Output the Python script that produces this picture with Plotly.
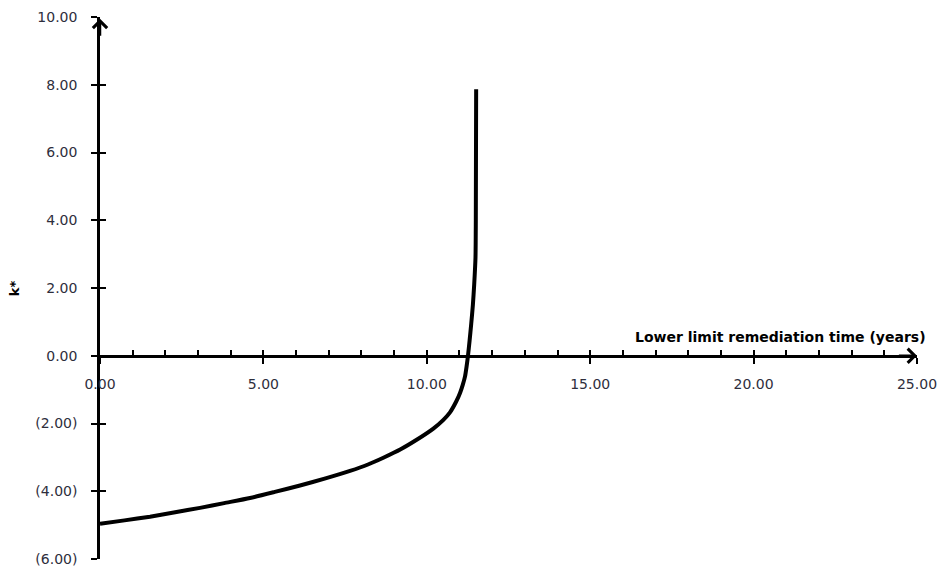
import plotly.graph_objects as go

# Lower limit remediation time (years) and the corresponding k* values
remediation_years = [0.0, 0.75, 1.53, 2.3, 3.06, 3.8, 4.59, 5.35, 6.12, 6.9, 7.65, 8.2,
                     8.67, 9.2, 9.69, 10.2, 10.5, 10.71, 10.9, 11.02, 11.1, 11.17,
                     11.22, 11.26, 11.31, 11.36, 11.41, 11.45, 11.49, 11.5, 11.51]
k_star = [-4.96, -4.86, -4.75, -4.62, -4.49, -4.35, -4.20, -4.02, -3.83, -3.62, -3.40,
          -3.21, -3.01, -2.76, -2.48, -2.15, -1.90, -1.67, -1.35, -1.09, -0.86, -0.61,
          -0.30, 0.0, 0.45, 0.95, 1.50, 2.10, 2.90, 4.00, 7.87]

x_tick_vals = [0, 5, 10, 15, 20, 25]
x_tick_text = ["0.00", "5.00", "10.00", "15.00", "20.00", "25.00"]
y_tick_vals = [-6, -4, -2, 0, 2, 4, 6, 8, 10]
y_tick_text = ["(6.00)", "(4.00)", "(2.00)", "0.00", "2.00", "4.00", "6.00", "8.00", "10.00"]

X_RANGE = [0, 25]
Y_RANGE = [-6, 10]
# the horizontal axis sits on k* = 0
zero_pos = (0 - Y_RANGE[0]) / (Y_RANGE[1] - Y_RANGE[0])

FONT = "DejaVu Sans"
LABEL_COLOR = "#2e2e3c"

fig = go.Figure()

fig.add_trace(go.Scatter(
    x=remediation_years, y=k_star, mode="lines",
    line=dict(color="black", width=4, shape="spline", smoothing=0.6),
    showlegend=False, hoverinfo="skip",
))
# invisible helpers so the overlay axes carrying the upper/right tick halves render
fig.add_trace(go.Scatter(x=[None], y=[None], xaxis="x2", yaxis="y",
                         showlegend=False, hoverinfo="skip"))
fig.add_trace(go.Scatter(x=[None], y=[None], xaxis="x", yaxis="y2",
                         showlegend=False, hoverinfo="skip"))

fig.update_layout(
    width=946, height=576,
    margin=dict(l=100, r=29, t=13, b=9),
    paper_bgcolor="white", plot_bgcolor="white",
    font=dict(family=FONT, size=14, color=LABEL_COLOR),
    xaxis=dict(
        range=X_RANGE, anchor="free", position=zero_pos, side="bottom",
        showgrid=False, zeroline=False,
        showline=True, linecolor="black", linewidth=2.5,
        tickmode="array", tickvals=x_tick_vals, ticktext=x_tick_text,
        ticks="outside", ticklen=6, tickwidth=2, tickcolor="black",
        ticklabelstandoff=9,
        tickfont=dict(family=FONT, size=14, color=LABEL_COLOR),
    ),
    xaxis2=dict(
        range=X_RANGE, overlaying="x", anchor="free", position=zero_pos,
        side="bottom", showgrid=False, zeroline=False, showline=False,
        tickmode="linear", tick0=0, dtick=1,
        ticks="inside", ticklen=6, tickwidth=2, tickcolor="black",
        showticklabels=False,
    ),
    yaxis=dict(
        range=Y_RANGE, anchor="x", side="left",
        showgrid=False, zeroline=False,
        showline=True, linecolor="black", linewidth=2.5,
        tickmode="array", tickvals=y_tick_vals, ticktext=y_tick_text,
        ticks="outside", ticklen=6, tickwidth=2, tickcolor="black",
        ticklabelstandoff=11,
        tickfont=dict(family=FONT, size=14, color=LABEL_COLOR),
    ),
    yaxis2=dict(
        range=Y_RANGE, overlaying="y", anchor="x", side="left",
        showgrid=False, zeroline=False, showline=False,
        tickmode="array", tickvals=y_tick_vals,
        ticks="inside", ticklen=6, tickwidth=2, tickcolor="black",
        showticklabels=False,
    ),
)

# open arrowheads at the ends of both axes
fig.add_annotation(x=X_RANGE[1], y=0, ax=X_RANGE[1] - 0.6, ay=0,
                   xref="x", yref="y", axref="x", ayref="y",
                   text="", showarrow=True, arrowhead=4, arrowsize=1.1,
                   arrowwidth=2.5, arrowcolor="black")
fig.add_annotation(x=0, y=Y_RANGE[1] - 0.05, ax=0, ay=Y_RANGE[1] - 0.6,
                   xref="x", yref="y", axref="x", ayref="y",
                   text="", showarrow=True, arrowhead=4, arrowsize=1.1,
                   arrowwidth=2.5, arrowcolor="black")

# axis titles
fig.add_annotation(x=1.0135, y=0, xref="paper", yref="y",
                   xanchor="right", yanchor="middle", yshift=19,
                   text="<b>Lower limit remediation time (years)</b>",
                   showarrow=False,
                   font=dict(family=FONT, size=14, color="black"))
fig.add_annotation(x=-0.105, y=0.5, xref="paper", yref="paper",
                   xanchor="center", yanchor="middle", textangle=-90,
                   text="<b>k*</b>", showarrow=False,
                   font=dict(family=FONT, size=13, color="black"))

fig.write_html("out.html")
